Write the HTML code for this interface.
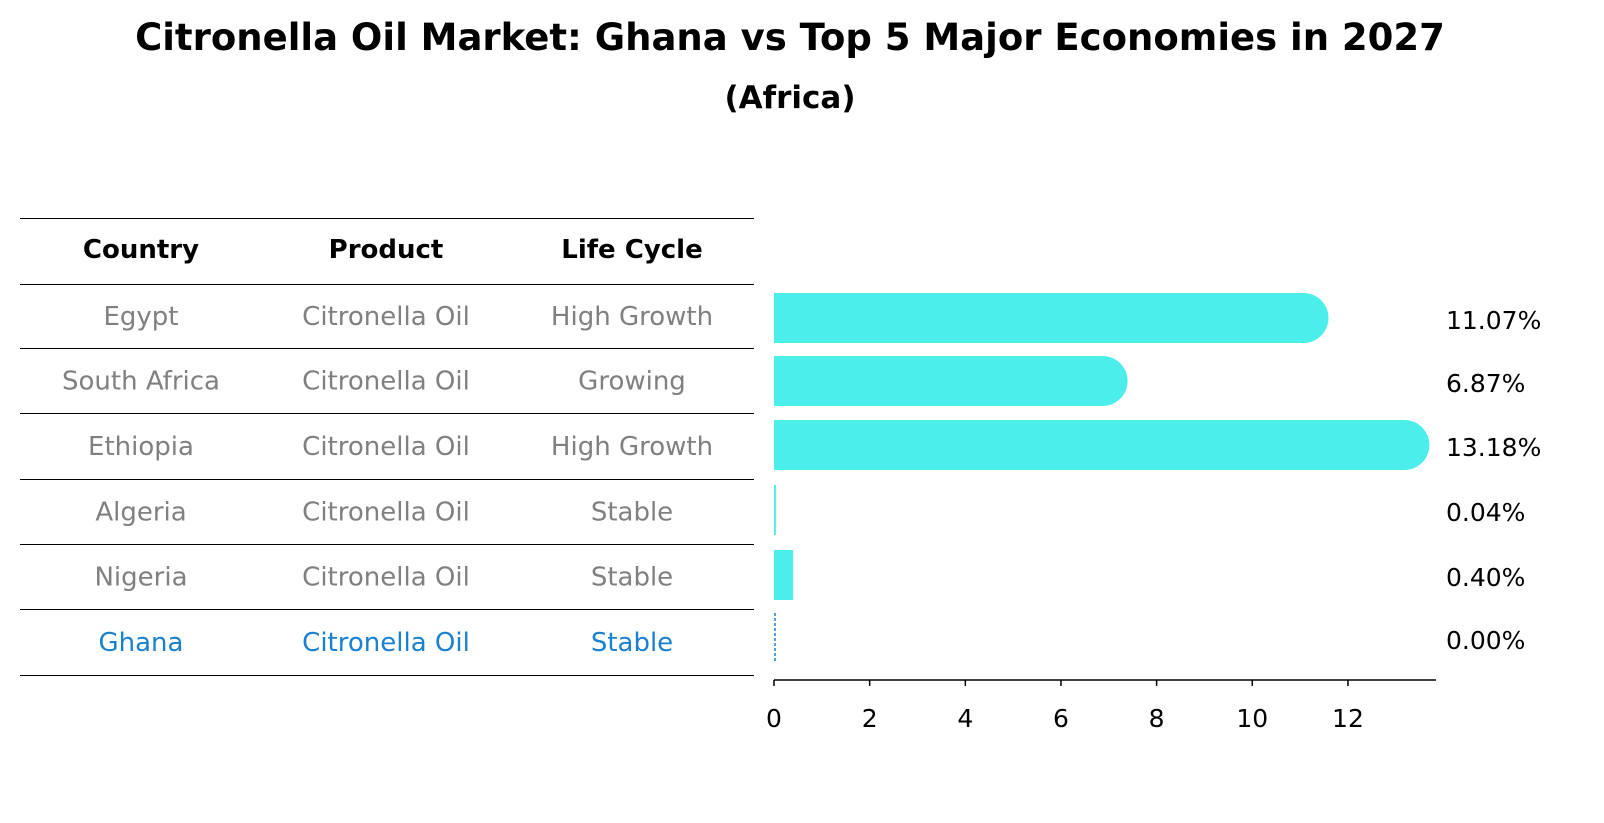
<!DOCTYPE html>
<html><head><meta charset="utf-8"><style>
html,body{margin:0;padding:0;background:#fff;overflow:hidden;width:1604px;height:823px}
svg{display:block}
svg text{font-family:"DejaVu Sans","Liberation Sans",sans-serif}
</style></head><body>
<svg id="c" width="1604" height="823" xmlns="http://www.w3.org/2000/svg">
<text x="790" y="50" text-anchor="middle" font-size="37" font-weight="bold">Citronella Oil Market: Ghana vs Top 5 Major Economies in 2027</text>
<text x="790" y="108" text-anchor="middle" font-size="31" font-weight="bold">(Africa)</text>
<g id="tbl"></g>
<g id="bars"></g>
</svg>
<script>
const countries=["Egypt","South Africa","Ethiopia","Algeria","Nigeria","Ghana"];
const products=["Citronella Oil","Citronella Oil","Citronella Oil","Citronella Oil","Citronella Oil","Citronella Oil"];
const lifeCycles=["High Growth","Growing","High Growth","Stable","Stable","Stable"];
const values=[11.07,6.87,13.18,0.04,0.40,0.00];
const ticks=[0,2,4,6,8,10,12];
const NS="http://www.w3.org/2000/svg";
function mk(t,a,p){const e=document.createElementNS(NS,t);for(const k in a)e.setAttribute(k,a[k]);p.appendChild(e);return e;}
const tbl=document.getElementById('tbl'),bars=document.getElementById('bars');
const colX=[141,386,632];
const hdr=["Country","Product","Life Cycle"];
const lineY=[218,284,348,413,479,544,609,675];
lineY.forEach((y,i)=>{const l=mk('line',{x1:20,x2:754,y1:y+0.5,y2:y+0.5,stroke:'#000','stroke-width':1},tbl);

});
hdr.forEach((h,i)=>{const t=mk('text',{x:colX[i],y:258,'text-anchor':'middle','font-size':26,'font-weight':'bold'},tbl);t.textContent=h;

});
const rowY=i=>(lineY[i+1]+lineY[i+2])/2;
countries.forEach((c,i)=>{const col=c==="Ghana"?'#1a80d0':'#808080';
[c,products[i],lifeCycles[i]].forEach((v,j)=>{const t=mk('text',{x:colX[j],y:rowY(i)+9,'text-anchor':'middle','font-size':26,fill:col},tbl);t.textContent=v;

});});
const x0=774,sc=47.83;const X=v=>x0+v*sc;
const cy=[318,381,445,510,575,638];const bh=50;
values.forEach((v,i)=>{const y=cy[i];
if(countries[i]==="Ghana"){const l=mk('line',{x1:X(v)+1,x2:X(v)+1,y1:y-25,y2:y+25,stroke:'#1a80d0','stroke-width':1.5,'stroke-dasharray':'3,2'},bars);

}
else{const w=X(v)-x0;let el;
if(w>bh){el=mk('path',{d:`M${x0},${y-bh/2}H${X(v)}A${bh/2},${bh/2} 0 0 1 ${X(v)},${y+bh/2}H${x0}Z`,fill:'#4beeea'},bars);}
else{el=mk('rect',{x:x0,y:y-bh/2,width:Math.max(w,1.5),height:bh,fill:'#4beeea'},bars);}

}
const t=mk('text',{x:1446,y:y+11,'font-size':25},bars);t.textContent=v.toFixed(2)+'%';

});
const ax=mk('line',{x1:x0,x2:1436,y1:680,y2:680,stroke:'#000','stroke-width':1.5},bars);


ticks.forEach(tk=>{const l=mk('line',{x1:X(tk),x2:X(tk),y1:680,y2:686,stroke:'#000','stroke-width':1.5},bars);


const t=mk('text',{x:X(tk),y:727,'text-anchor':'middle','font-size':25},bars);t.textContent=tk;

});
</script>
</body></html>
